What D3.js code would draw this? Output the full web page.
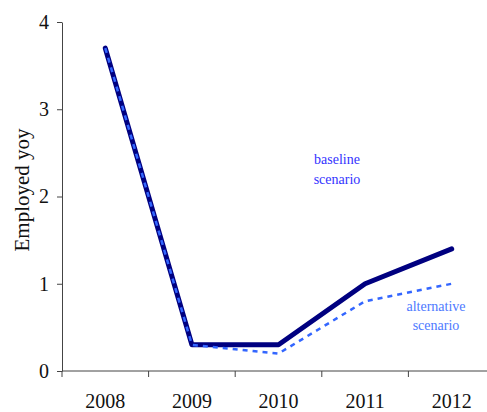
<!DOCTYPE html>
<html>
<head>
<meta charset="utf-8">
<script src="https://cdn.jsdelivr.net/npm/d3@7"></script>
<style>
  body { margin: 0; background: #fff; }
  svg { display: block; font-family: "Liberation Serif", "Times New Roman", serif; }
</style>
</head>
<body>
<svg id="chart" width="487" height="412"></svg>
<script>
const years = ['2008', '2009', '2010', '2011', '2012'];
const baseline = [3.7, 0.3, 0.3, 1.0, 1.4];
const alternative = [3.7, 0.3, 0.2, 0.8, 1.0];
const yTicks = [0, 1, 2, 3, 4];

const svg = d3.select('#chart');
const margin = { top: 22, right: 0, bottom: 41, left: 62 };
const height = 412 - margin.top - margin.bottom;

const x = d3.scaleBand().domain(years).range([margin.left, margin.left + 433]);
const y = d3.scaleLinear().domain([0, 4]).range([height + margin.top, margin.top]);

// y axis
const yAxis = svg.append('g')
  .attr('transform', `translate(${margin.left},0)`)
  .attr('font-family', 'Liberation Serif')
  .call(d3.axisLeft(y).tickValues(yTicks).tickFormat(d3.format('d')).tickSize(5).tickSizeOuter(0).tickPadding(8));
yAxis.attr('font-family', 'Liberation Serif');
yAxis.select('.domain').attr('stroke', '#444');
yAxis.selectAll('.tick line').attr('stroke', '#444');
yAxis.selectAll('text').style('font-size', '20px').attr('fill', '#111');

// x axis, ticks on band boundaries
const xg = svg.append('g').attr('transform', `translate(0,${y(0)})`);
xg.append('line').attr('x1', margin.left).attr('x2', 487).attr('stroke', '#444');
xg.selectAll('.bt').data(years).enter().append('line')
  .attr('x1', d => x(d)).attr('x2', d => x(d))
  .attr('y1', 0).attr('y2', 6).attr('stroke', '#444');
xg.selectAll('.lbl').data(years).enter().append('text')
  .attr('x', d => x(d) + x.bandwidth() / 2)
  .attr('y', 37)
  .attr('text-anchor', 'middle')
  .style('font-size', '20px')
  .attr('fill', '#111')
  .text(d => d);

// y title
svg.append('text')
  .attr('transform', `translate(29,190) rotate(-90)`)
  .attr('text-anchor', 'middle')
  .style('font-size', '21px')
  .attr('fill', '#111')
  .text('Employed yoy');

const line = d3.line()
  .x((d, i) => x(years[i]) + x.bandwidth() / 2)
  .y(d => y(d));

svg.append('path').datum(baseline)
  .attr('d', line)
  .attr('fill', 'none')
  .attr('stroke', '#000080')
  .attr('stroke-width', 5)
  .attr('stroke-linecap', 'round')
  .attr('stroke-linejoin', 'round');

svg.append('path').datum(alternative)
  .attr('d', line)
  .attr('fill', 'none')
  .attr('stroke', '#3366ff')
  .attr('stroke-width', 2.5)
  .attr('stroke-dasharray', '5,5');

// annotations
svg.append('text').attr('x', 337).attr('y', 164).attr('text-anchor', 'middle')
  .style('font-size', '14px').attr('fill', '#3333ff')
  .selectAll('tspan').data(['baseline', 'scenario']).enter().append('tspan')
  .attr('x', 337).attr('dy', (d, i) => i ? 20 : 0).text(d => d);

svg.append('text').attr('x', 436).attr('y', 311).attr('text-anchor', 'middle')
  .style('font-size', '14px').attr('fill', '#4d79ff')
  .selectAll('tspan').data(['alternative', 'scenario']).enter().append('tspan')
  .attr('x', 436).attr('dy', (d, i) => i ? 19 : 0).text(d => d);
</script>
</body>
</html>
